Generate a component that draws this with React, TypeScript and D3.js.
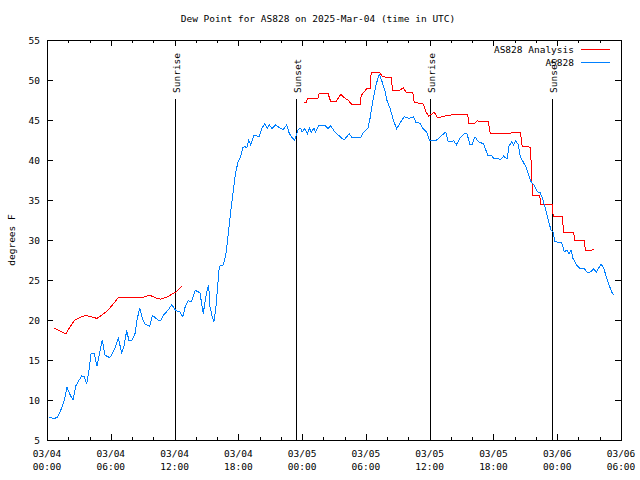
import React from "react";
import * as d3 from "d3";

// hours since 03/04 00:00 UTC
const obsHours = [0.19,0.75,1.01,1.38,1.63,1.88,2.19,2.45,2.70,2.94,3.26,3.51,3.73,3.95,4.14,4.45,4.70,4.96,5.20,5.46,5.90,6.14,6.46,6.71,7.03,7.27,7.50,7.71,8.02,8.28,8.47,8.72,8.97,9.22,9.66,9.91,10.16,10.47,10.72,11.04,11.41,11.73,12.11,12.51,12.77,13.01,13.26,13.58,13.95,14.39,14.70,14.89,15.08,15.21,15.33,15.52,15.71,15.90,16.21,16.59,16.84,17.09,17.34,17.53,17.71,17.97,18.16,18.41,18.60,18.79,18.98,19.16,19.47,19.97,20.23,20.48,20.73,20.91,21.17,21.48,21.92,22.23,22.55,22.80,23.05,23.30,23.61,23.87,23.99,24.24,24.49,24.68,24.86,25.12,25.24,25.56,26.18,26.44,26.69,27.07,27.50,27.94,28.44,28.69,29.51,29.70,30.20,30.39,30.64,30.95,31.26,31.52,31.77,32.01,32.27,32.58,32.90,33.21,33.59,34.08,34.46,34.71,35.09,35.34,35.72,35.96,36.66,37.07,37.51,37.75,38.01,38.26,38.51,38.83,39.26,39.51,39.77,40.01,40.26,40.58,41.08,41.46,41.84,42.02,42.71,42.96,43.28,43.46,43.72,43.90,44.09,44.34,44.53,44.78,45.03,45.28,45.53,45.84,46.16,46.41,46.66,46.92,47.16,47.41,47.60,47.79,48.10,48.42,48.67,48.92,49.11,49.30,49.48,49.86,50.11,50.49,50.80,51.11,51.43,51.68,51.86,52.12,52.37,52.62,52.87,53.12,53.31];
const obsValues = [7.8,7.7,7.9,9.0,10.0,11.6,10.6,10.0,11.75,12.3,13.0,12.9,12.0,13.75,15.8,15.8,14.25,16.0,17.5,15.6,15.3,15.75,16.7,17.7,15.9,16.9,18.7,17.4,17.5,18.3,20.0,21.5,20.2,19.5,19.2,20.6,20.3,20.0,20.0,20.75,21.25,21.9,21.2,21.0,20.4,21.7,22.4,22.3,23.7,23.4,20.8,22.5,23.75,24.4,21.7,20.5,19.8,21.7,26.7,26.9,28.3,31.25,34.2,36.25,38.1,39.8,40.2,41.5,41.7,41.5,42.5,41.9,43.1,42.9,44.0,44.5,44.0,44.4,43.9,44.4,44.0,43.8,44.4,43.3,42.8,42.5,43.75,44.0,43.5,43.9,43.3,44.0,43.5,44.0,43.5,44.3,44.3,43.9,44.3,43.5,43.0,42.5,43.3,42.8,42.8,43.3,44.0,45.2,47.3,49.4,50.7,49.8,48.75,47.3,46.5,45.0,43.9,44.6,45.4,45.2,45.4,44.7,44.6,44.0,43.5,42.5,42.5,43.0,43.5,42.3,42.3,42.4,41.9,42.7,43.3,43.3,42.0,42.0,42.9,42.3,42.0,40.6,40.5,40.2,40.1,40.5,40.1,41.7,42.3,41.9,42.4,41.9,40.4,39.8,39.2,38.3,37.3,36.8,36.0,35.9,35.0,33.75,32.5,31.25,31.0,29.8,29.7,29.7,28.5,28.75,28.3,28.75,27.7,26.8,26.5,26.5,26.0,26.0,26.4,26.0,26.4,27.0,26.5,25.4,24.4,23.5,23.1];

const anaHours1 = [0.69,1.76,2.19,2.63,3.08,3.64,4.14,4.70,5.15,5.77,6.71,8.91,9.66,10.16,10.66,11.17,11.60,12.11,12.73];
const anaValues1 = [19.0,18.25,19.2,20.0,20.3,20.6,20.4,20.2,20.6,21.25,22.8,22.8,23.1,22.8,22.6,22.8,23.1,23.5,24.25];

const anaHours2 = [24.18,24.37,24.55,24.74,25.49,25.60,25.75,26.44,26.69,27.19,27.63,27.94,28.32,28.69,29.45,29.57,29.82,30.08,30.39,30.50,30.64,31.26,31.58,32.39,32.50,32.64,33.21,33.52,33.77,34.40,34.55,34.65,35.40,35.66,35.91,36.15,36.41,36.74,37.19,37.75,38.69,39.58,39.68,39.77,40.26,40.45,40.76,41.52,41.70,41.84,43.56,43.77,44.53,44.70,44.78,45.47,45.60,45.66,45.79,46.35,46.45,46.54,47.54,47.62,47.73,48.48,48.60,48.73,49.55,49.65,49.80,50.55,50.65,50.74,51.30,51.49];
const anaValues2 = [47.2,47.2,47.7,47.7,47.7,48.3,48.3,48.3,47.3,47.3,48.2,47.8,47.5,46.9,46.9,48.1,48.5,48.9,48.9,51.0,51.0,51.0,50.4,50.3,48.75,48.75,48.75,49.0,48.5,48.5,47.2,47.2,47.0,46.0,45.5,45.7,46.0,45.3,45.4,45.6,45.7,45.7,44.6,44.6,44.6,44.9,44.8,44.8,43.3,43.3,43.3,43.5,43.5,41.7,41.7,41.6,38.5,35.6,35.6,35.6,34.4,34.4,34.4,33.0,33.0,33.0,31.0,31.0,31.0,29.9,29.9,29.9,28.75,28.75,28.75,28.8];

const sunEvents = [
  { hour: 12.04, label: "Sunrise" },
  { hour: 23.45, label: "Sunset" },
  { hour: 36.06, label: "Sunrise" },
  { hour: 47.54, label: "Sunset" },
];

const yTicks = [5, 10, 15, 20, 25, 30, 35, 40, 45, 50, 55];
const xTickHours = [0, 6, 12, 18, 24, 30, 36, 42, 48, 54];
const xTickLabels = [
  ["03/04", "00:00"], ["03/04", "06:00"], ["03/04", "12:00"], ["03/04", "18:00"],
  ["03/05", "00:00"], ["03/05", "06:00"], ["03/05", "12:00"], ["03/05", "18:00"],
  ["03/06", "00:00"], ["03/06", "06:00"],
];

const W = 640, H = 480;
const L = 47, R = 621, T = 40, B = 440;
const FONT = "'DejaVu Sans Mono', monospace";
const FS = 9.5;
const RED = "#ff0000";
const BLUE = "#0080ff";

export default function App() {
  const x = d3.scaleLinear().domain([0, 54]).range([L, R]);
  const y = d3.scaleLinear().domain([5, 55]).range([B, T]);
  const line = d3.line<[number, number]>().x((d) => x(d[0])).y((d) => y(d[1]));
  const obs = obsHours.map((h, i) => [h, obsValues[i]] as [number, number]);
  const a1 = anaHours1.map((h, i) => [h, anaValues1[i]] as [number, number]);
  const a2 = anaHours2.map((h, i) => [h, anaValues2[i]] as [number, number]);
  const minorHours = d3.range(0, 55, 2).filter((h) => h % 6 !== 0);

  return (
    <svg width={W} height={H} style={{ position: "absolute", left: 0, top: 0, background: "#fff" }}
      fontFamily={FONT} fontSize={FS}>
      <rect x={0} y={0} width={W} height={H} fill="#fff" />
      <text x={318} y={22} textAnchor="middle">Dew Point for AS828 on 2025-Mar-04 (time in UTC)</text>
      <g shapeRendering="crispEdges" stroke="#000" strokeWidth={1}>
        {yTicks.map((v) => (
          <g key={"yt" + v}>
            <line x1={L} x2={L + 6} y1={Math.round(y(v)) + 0.5} y2={Math.round(y(v)) + 0.5} />
            <line x1={R - 6} x2={R} y1={Math.round(y(v)) + 0.5} y2={Math.round(y(v)) + 0.5} />
          </g>
        ))}
        {xTickHours.map((h) => (
          <g key={"xt" + h}>
            <line x1={Math.round(x(h)) + 0.5} x2={Math.round(x(h)) + 0.5} y1={B} y2={B - 6} />
            <line x1={Math.round(x(h)) + 0.5} x2={Math.round(x(h)) + 0.5} y1={T} y2={T + 6} />
          </g>
        ))}
        {minorHours.map((h) => (
          <g key={"xm" + h}>
            <line x1={Math.round(x(h)) + 0.5} x2={Math.round(x(h)) + 0.5} y1={B} y2={B - 3} />
            <line x1={Math.round(x(h)) + 0.5} x2={Math.round(x(h)) + 0.5} y1={T} y2={T + 3} />
          </g>
        ))}
        {sunEvents.map((s, i) => (
          <line key={"sl" + i} x1={Math.round(x(s.hour)) + 0.5} x2={Math.round(x(s.hour)) + 0.5} y1={99} y2={B} />
        ))}
        <rect x={L + 0.5} y={T + 0.5} width={R - L} height={B - T} fill="none" />
      </g>
      {yTicks.map((v) => (
        <text key={"yl" + v} x={40} y={y(v) + 3.5} textAnchor="end">{v}</text>
      ))}
      {xTickHours.map((h, i) => (
        <g key={"xl" + h}>
          <text x={x(h)} y={457} textAnchor="middle">{xTickLabels[i][0]}</text>
          <text x={x(h)} y={470} textAnchor="middle">{xTickLabels[i][1]}</text>
        </g>
      ))}
      <text transform={`translate(15,240) rotate(-90)`} textAnchor="middle">degrees F</text>
      {sunEvents.map((s, i) => (
        <text key={"st" + i} transform={`translate(${Math.round(x(s.hour)) + 4.5},93) rotate(-90)`} textAnchor="start">{s.label}</text>
      ))}
      <g shapeRendering="crispEdges">
        <path d={line(a1) || ""} fill="none" stroke={RED} strokeWidth={1} />
        <path d={line(a2) || ""} fill="none" stroke={RED} strokeWidth={1} />
        <path d={line(obs) || ""} fill="none" stroke={BLUE} strokeWidth={1} />
      </g>
      <text x={574} y={53} textAnchor="end">AS828 Analysis</text>
      <line x1={581} x2={610} y1={49.5} y2={49.5} stroke={RED} strokeWidth={1} shapeRendering="crispEdges" />
      <text x={574} y={66} textAnchor="end">AS828</text>
      <line x1={581} x2={610} y1={62.5} y2={62.5} stroke={BLUE} strokeWidth={1} shapeRendering="crispEdges" />
    </svg>
  );
}
